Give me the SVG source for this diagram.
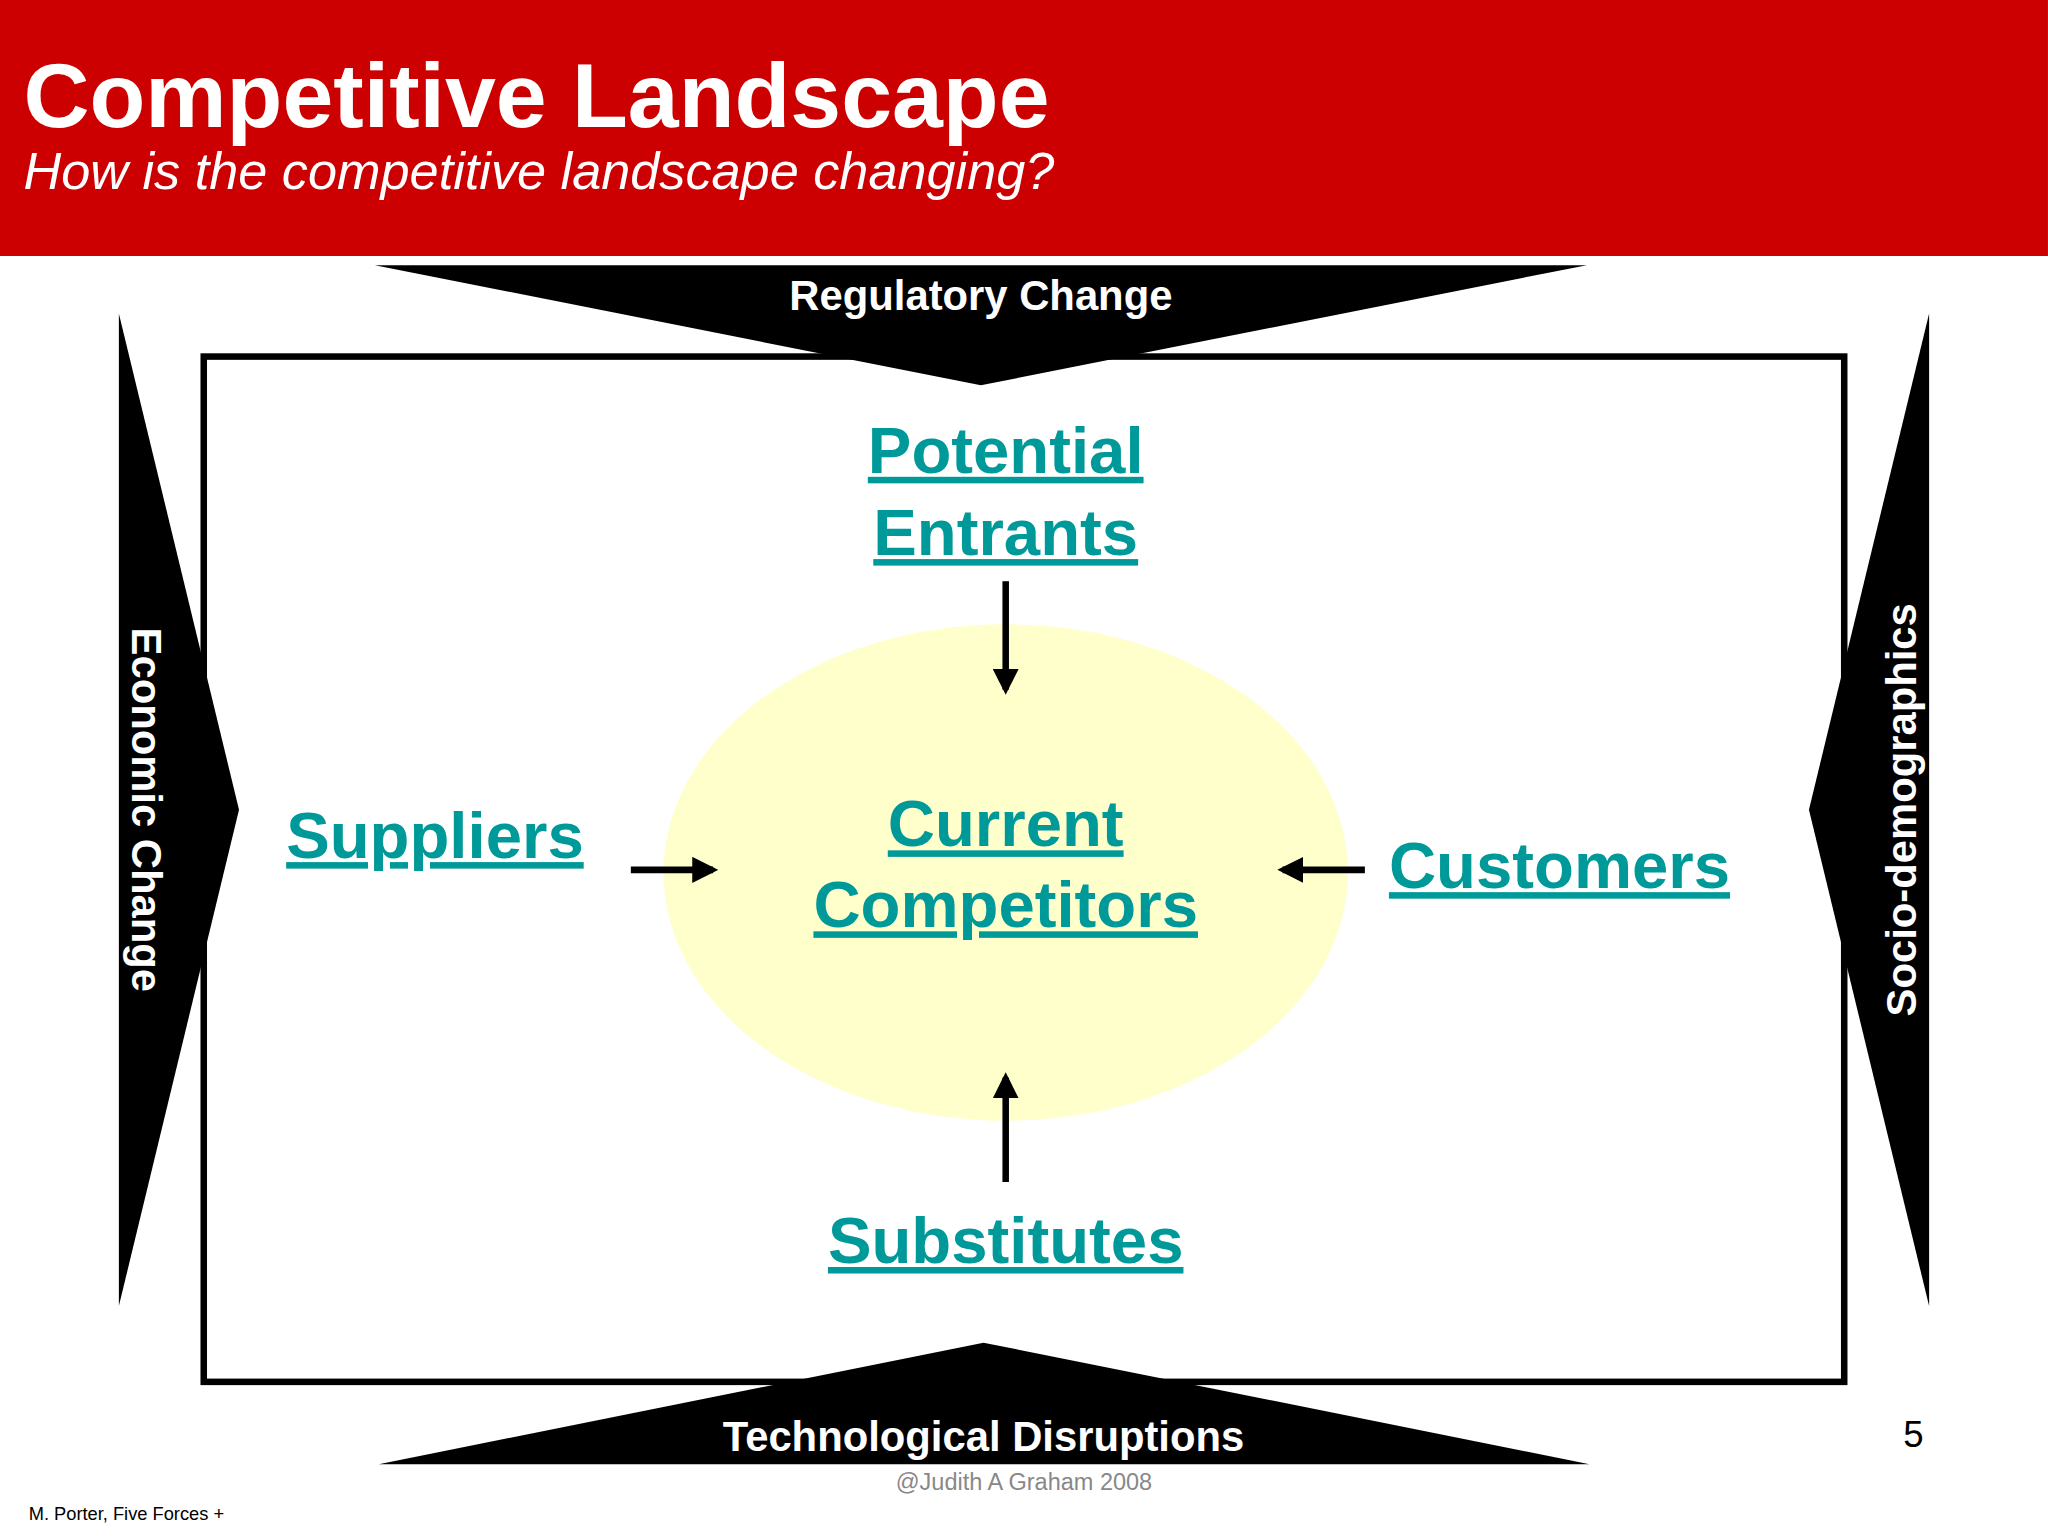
<svg xmlns="http://www.w3.org/2000/svg" width="2048" height="1536" viewBox="0 0 2048 1536">
<style>
.lbl{font-family:"Liberation Sans",Arial,sans-serif;font-weight:bold;font-size:50px;fill:#009999;text-decoration:underline;text-anchor:middle}
.frc{font-family:"Liberation Sans",Arial,sans-serif;font-weight:bold;font-size:32px;fill:#fff;text-anchor:middle}
.arr{stroke:#000;stroke-width:5;fill:none}
</style>
<defs><marker id="ah" viewBox="0 0 10 10" refX="8" refY="5" markerWidth="4" markerHeight="4" orient="auto"><path d="M0,0L10,5L0,10z" fill="#000"/></marker></defs>
<rect width="2048" height="1536" fill="#fff"/>
<g transform="scale(1.3061)">
<g id="header">
<rect x="0" y="0" width="1568" height="196" fill="#cc0000"/>
<text x="18" y="97" font-family="Liberation Sans,Arial,sans-serif" font-weight="bold" font-size="70" fill="#fff">Competitive Landscape</text>
<text x="18" y="145" font-family="Liberation Sans,Arial,sans-serif" font-style="italic" font-size="40" fill="#fff">How is the competitive landscape changing?</text>
</g>
<rect x="156" y="273" width="1256" height="785" fill="none" stroke="#000" stroke-width="5"/>
<g id="regulatory"><polygon points="287,203 1215,203 751,295" fill="#000"/><text class="frc" x="751" y="237">Regulatory Change</text></g>
<g id="economic"><polygon points="91,240 91,1000 183,620" fill="#000"/><text class="frc" transform="translate(101,620) rotate(90)">Economic Change</text></g>
<g id="socio"><polygon points="1477,240 1477,1000 1385,620" fill="#000"/><text class="frc" transform="translate(1467,620) rotate(-90)">Socio-demographics</text></g>
<g id="tech"><polygon points="290,1121 1217,1121 753,1028" fill="#000"/><text class="frc" x="753" y="1111">Technological Disruptions</text></g>
<g id="current"><ellipse cx="770" cy="668" rx="262" ry="190" fill="#ffffcc"/><text class="lbl" x="770" y="648">Current</text><text class="lbl" x="770" y="710">Competitors</text></g>
<g id="entrants"><text class="lbl" x="770" y="362">Potential</text><text class="lbl" x="770" y="425">Entrants</text></g>
<g id="suppliers"><text class="lbl" x="333" y="657">Suppliers</text></g>
<g id="customers"><text class="lbl" x="1194" y="680">Customers</text></g>
<g id="substitutes"><text class="lbl" x="770" y="967">Substitutes</text></g>
<g id="connectors">
<line class="arr" x1="770" y1="445" x2="770" y2="528" marker-end="url(#ah)"/>
<line class="arr" x1="483" y1="666" x2="546" y2="666" marker-end="url(#ah)"/>
<line class="arr" x1="1045" y1="666" x2="982" y2="666" marker-end="url(#ah)"/>
<line class="arr" x1="770" y1="905" x2="770" y2="825" marker-end="url(#ah)"/>
</g>
<text x="1465" y="1108" font-family="Liberation Sans,Arial,sans-serif" font-size="28" text-anchor="middle">5</text>
<text x="784" y="1141" font-family="Liberation Sans,Arial,sans-serif" font-size="18" fill="#888" text-anchor="middle">@Judith A Graham 2008</text>
<text x="22" y="1164" font-family="Liberation Sans,Arial,sans-serif" font-size="14">M. Porter, Five Forces +</text>
</g>
</svg>
